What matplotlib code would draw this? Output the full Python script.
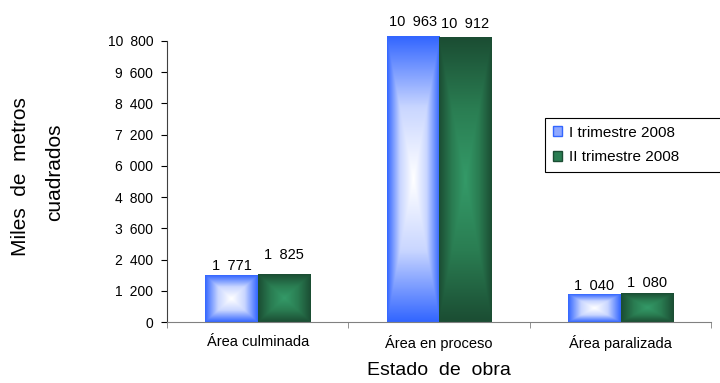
import numpy as np
import matplotlib.pyplot as plt
from matplotlib.colors import LinearSegmentedColormap
from matplotlib.patches import Patch

plt.rcParams['font.family'] = ['Liberation Sans', 'DejaVu Sans']

categorias = ['Área culminada', 'Área en proceso', 'Área paralizada']
series = ['I trimestre 2008', 'II trimestre 2008']
trim1 = [1771, 10963, 1040]
trim2 = [1825, 10912, 1080]
yticks = [0, 1200, 2400, 3600, 4800, 6000, 7200, 8400, 9600, 10800]

azul = LinearSegmentedColormap.from_list('azul', ['#ffffff', '#c9d6ff', '#3366ff'])
verde = LinearSegmentedColormap.from_list('verde', ['#349a68', '#2a7d52', '#1b4d33'])


def rect_gradient(n=200):
    # gradient that grows from the centre out to the rectangle edges
    u = np.linspace(-1, 1, n)
    uu, vv = np.meshgrid(u, u)
    return np.maximum(np.abs(uu), np.abs(vv))


def gradient_bars(ax, bars, cmap):
    g = rect_gradient()
    for b in bars:
        x0, y0 = b.get_x(), b.get_y()
        w, h = b.get_width(), b.get_height()
        ax.imshow(g, cmap=cmap, extent=(x0, x0 + w, y0, y0 + h),
                  aspect='auto', origin='lower', clip_on=False,
                  interpolation='bilinear', zorder=2)


def miles(v):
    # thousands separated by a wide space
    return f'{v:,}'.replace(',', '\u2002')


fig = plt.figure(figsize=(7.2, 3.83), dpi=100)
ax = fig.add_axes([0.232, 0.159, 0.756, 0.734])

x = np.arange(len(categorias))
w = 0.29
b1 = ax.bar(x - w / 2, trim1, w, color='none', zorder=1)
b2 = ax.bar(x + w / 2, trim2, w, color='none', zorder=1)
gradient_bars(ax, b1, azul)
gradient_bars(ax, b2, verde)

# labels sit at slightly different heights above each bar
lift = [[6, 11, 5], [16, 10, 7]]
for bars, vals, up in ((b1, trim1, lift[0]), (b2, trim2, lift[1])):
    for b, v, d in zip(bars, vals, up):
        ax.annotate(miles(v), (b.get_x() + b.get_width() / 2, v),
                    xytext=(0, d), textcoords='offset pixels',
                    ha='center', va='baseline', fontsize=10.5,
                    annotation_clip=False)

ax.set_xlim(-0.5, 2.5)
ax.set_ylim(0, 10800)
ax.set_yticks(yticks)
ax.set_yticklabels([miles(v) for v in yticks], fontsize=10)
ax.set_xticks(x)
ax.set_xticklabels(categorias, fontsize=10.5)
ax.set_xticks([-0.5, 0.5, 1.5, 2.5], minor=True)
ax.tick_params(axis='x', which='major', length=0, pad=9)
ax.tick_params(axis='x', which='minor', length=4, direction='out', color='#808080')
ax.tick_params(axis='y', length=4, direction='out', pad=6)

for s in ('top', 'right'):
    ax.spines[s].set_visible(False)
ax.spines['bottom'].set_color('#808080')
ax.spines['left'].set_color('#404040')

ax.set_xlabel('Estado  de  obra', fontsize=14, labelpad=8)
fig.text(0.028, 0.54, 'Miles  de  metros', rotation=90, fontsize=15,
         ha='center', va='center')
fig.text(0.076, 0.55, 'cuadrados', rotation=90, fontsize=15,
         ha='center', va='center')

handles = [Patch(facecolor='#8fa8ff', edgecolor='#3366ff'),
           Patch(facecolor='#2a7d52', edgecolor='#1b4d33')]
leg = fig.legend(handles, series, loc='upper left', mode='expand',
                 bbox_to_anchor=(0.757, 0.542, 0.26, 0.15),
                 bbox_transform=fig.transFigure,
                 fontsize=11, fancybox=False, edgecolor='black', framealpha=1,
                 borderaxespad=0, handlelength=0.6, handleheight=0.6,
                 handletextpad=0.5, labelspacing=0.7, borderpad=0.5)
leg.get_frame().set_linewidth(0.8)

fig.savefig('out.png', dpi=100)
